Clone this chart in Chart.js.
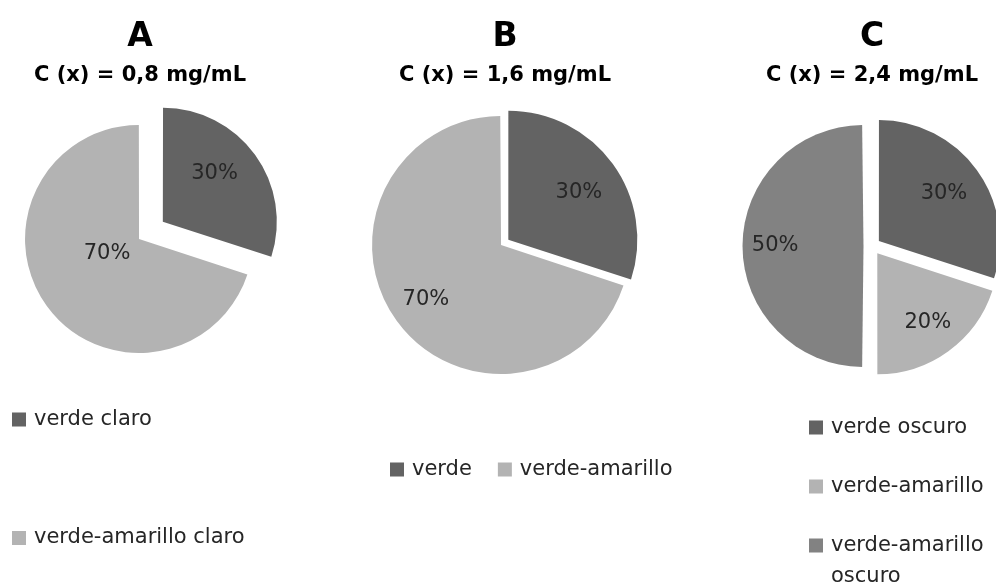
<!DOCTYPE html>
<html>
<head>
<meta charset="utf-8">
<title>Color por concentración</title>
<script src="https://cdn.jsdelivr.net/npm/chart.js@4/dist/chart.umd.min.js"></script>
<style>
  html, body { margin: 0; padding: 0; background: #ffffff; }
  #wrap { position: relative; width: 996px; height: 587px; overflow: hidden; }
  #wrap canvas { position: absolute; left: 0; top: 0; }
</style>
</head>
<body>
<div id="wrap">
  <canvas id="pieA" width="996" height="587"></canvas>
  <canvas id="pieB" width="996" height="587"></canvas>
  <canvas id="pieC" width="996" height="587"></canvas>
</div>
<script>
// Panel headings
const panelLetters = ['A', 'B', 'C'];
const concentrations = ['C (x) = 0,8 mg/mL', 'C (x) = 1,6 mg/mL', 'C (x) = 2,4 mg/mL'];

// Colour categories and their shares (%) at each concentration
const labelsA = ['verde claro', 'verde-amarillo claro'];
const valuesA = [30, 70];

const labelsB = ['verde', 'verde-amarillo'];
const valuesB = [30, 70];

const labelsC = ['verde oscuro', 'verde-amarillo', 'verde-amarillo oscuro'];
const valuesC = [30, 20, 50];

// Greys used for the slices
const DARK = '#636363';
const LIGHT = '#b3b3b3';
const MID = '#828282';

const FONT = "'DejaVu Sans', 'Liberation Sans', sans-serif";
const TEXT = '#262626';

// Chart.js grows large exploded slices by offset/4 * fix; undo that so
// every slice keeps the radius the dataset asks for.
const keepRadius = {
  id: 'keepRadius',
  beforeDatasetDraw(chart) {
    chart.getDatasetMeta(0).data.forEach(el => {
      const q = (el.options.offset || 0) / 4;
      const fix = 1 - Math.sin(Math.min(Math.PI, el.circumference || 0));
      el.$fullR = el.outerRadius;
      el.outerRadius = el.outerRadius - q * fix;
    });
  },
  afterDatasetDraw(chart) {
    chart.getDatasetMeta(0).data.forEach(el => {
      if (el.$fullR !== undefined) { el.outerRadius = el.$fullR; delete el.$fullR; }
    });
  }
};

// Percentage written inside each slice: placed along the slice's middle
// direction (optionally turned a few degrees) at a fraction of the radius
const sliceText = {
  id: 'sliceText',
  afterDatasetsDraw(chart, args, opts) {
    const ctx = chart.ctx;
    const values = chart.data.datasets[0].data;
    ctx.save();
    ctx.font = `${opts.size}px ${FONT}`;
    ctx.fillStyle = opts.color;
    ctx.textAlign = 'center';
    ctx.textBaseline = 'middle';
    chart.getDatasetMeta(0).data.forEach((el, i) => {
      const mid = (el.startAngle + el.endAngle) / 2;
      const shift = (el.options.offset || 0) / 4;
      const cx = el.x + Math.cos(mid) * shift;
      const cy = el.y + Math.sin(mid) * shift;
      const a = mid + ((opts.turn && opts.turn[i]) || 0) * Math.PI / 180;
      const d = opts.radial[i] * el.outerRadius;
      ctx.fillText(values[i] + '%', cx + Math.cos(a) * d, cy + Math.sin(a) * d);
    });
    ctx.restore();
  }
};

// Key with square swatches, laid out as a column or a row
const keyList = {
  id: 'keyList',
  afterDraw(chart, args, opts) {
    const ctx = chart.ctx;
    const colors = chart.data.datasets[0].backgroundColor;
    ctx.save();
    ctx.font = `${opts.size}px ${FONT}`;
    ctx.textAlign = 'left';
    ctx.textBaseline = 'middle';
    let x = opts.x, y = opts.y;
    chart.data.labels.forEach((label, i) => {
      ctx.fillStyle = colors[i];
      ctx.fillRect(x, y - opts.box / 2, opts.box, opts.box);
      ctx.fillStyle = opts.color;
      // wrap words that run past the available width
      const words = label.split(' ');
      const lines = [];
      let cur = '';
      words.forEach(w => {
        const t = cur ? cur + ' ' + w : w;
        if (cur && opts.maxWidth && ctx.measureText(t).width > opts.maxWidth) { lines.push(cur); cur = w; }
        else cur = t;
      });
      lines.push(cur);
      lines.forEach((ln, k) => ctx.fillText(ln, x + opts.gap, y + k * opts.lineHeight));
      if (opts.row) x += opts.gap + ctx.measureText(label).width + opts.spacing;
      else y += opts.step;
    });
    ctx.restore();
  }
};

function makePie(id, idx, labels, values, colors, cfg) {
  return new Chart(document.getElementById(id), {
    type: 'pie',
    data: {
      labels: labels,
      datasets: [{
        data: values,
        backgroundColor: colors,
        borderWidth: 0,
        offset: cfg.offset,
        radius: cfg.radius
      }]
    },
    plugins: [keepRadius, sliceText, keyList],
    options: {
      responsive: false,
      animation: false,
      events: [],
      layout: { padding: cfg.padding },
      plugins: {
        legend: { display: false },
        tooltip: { enabled: false },
        title: {
          display: true,
          text: panelLetters[idx],
          color: '#000000',
          font: { family: FONT, size: 33, weight: 'bold', lineHeight: 1 },
          padding: { top: 20.5, bottom: 0 }
        },
        subtitle: {
          display: true,
          text: concentrations[idx],
          color: '#000000',
          font: { family: FONT, size: 21, weight: 'bold', lineHeight: 1 },
          padding: { top: 11.5, bottom: 0 }
        },
        sliceText: { size: 21, color: TEXT, radial: cfg.radial, turn: cfg.turn },
        keyList: Object.assign({ size: 21, color: TEXT, box: 14, gap: 22, lineHeight: 31 }, cfg.key)
      }
    }
  });
}

makePie('pieA', 0, labelsA, valuesA, [DARK, LIGHT], {
  radius: 114,
  offset: [112.8, 4.8],
  padding: { left: 0, right: 716, top: 0, bottom: 196.4 },
  radial: [0.62, 0.31],
  turn: [-7, 11],
  key: { x: 12, y: 419.5, step: 118.5 }
});

makePie('pieB', 1, labelsB, valuesB, [DARK, LIGHT], {
  radius: 129,
  offset: [16.4, 19.6],
  padding: { left: 330, right: 316, top: 0, bottom: 188.8 },
  radial: [0.66, 0.72],
  turn: [2, 0],
  key: { x: 390, y: 469.5, row: true, spacing: 26 }
});

makePie('pieC', 2, labelsC, valuesC, [DARK, LIGHT, MID], {
  radius: 121,
  offset: [34, 36, 34],
  padding: { left: 748, right: 0, top: 0, bottom: 181 },
  radial: [0.665, 0.71, 0.73],
  turn: [0, 0, 0],
  key: { x: 809, y: 427.5, step: 59, maxWidth: 165 }
});
</script>
</body>
</html>
